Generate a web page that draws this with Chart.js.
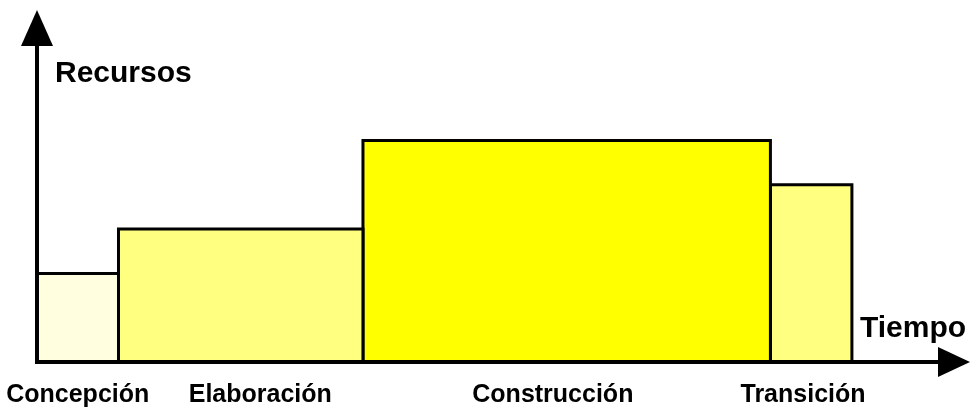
<!DOCTYPE html>
<html>
<head>
<meta charset="utf-8">
<script src="https://cdn.jsdelivr.net/npm/chart.js@4.4.1/dist/chart.umd.min.js"></script>
<style>
  html, body { margin: 0; padding: 0; background: #fff; }
  canvas { display: block; }
</style>
</head>
<body>
<canvas id="chart" width="980" height="408"></canvas>
<script>
// phases of the process: duration (time units) and resources used
const phases = ['Concepción', 'Elaboración', 'Construcción', 'Transición'];
const durations = [1, 3, 5, 1];
const resources = [4, 6, 10, 8];
// where each phase name sits on the time axis
const labelAt = [0.5, 2.74, 6.33, 9.4];
const colors = ['#FFFFE0', '#FFFF80', '#FFFF00', '#FFFF80'];

const xMax = 11.4;
const yMax = 15.8;
const FONT = "'Liberation Sans', Arial, sans-serif";

// build one closed step shape per phase
let start = 0;
const datasets = phases.map((name, i) => {
    const end = start + durations[i];
    const ds = {
        label: name,
        data: [
            {x: start, y: 0},
            {x: start, y: resources[i]},
            {x: end, y: resources[i]},
            {x: end, y: 0}
        ],
        backgroundColor: colors[i],
        borderColor: '#000',
        borderWidth: 3,
        borderJoinStyle: 'miter',
        fill: 'origin',
        pointRadius: 0,
        tension: 0,
        clip: false
    };
    start = end;
    return ds;
});

const axesPlugin = {
    id: 'axes',
    afterDatasetsDraw(chart) {
        const ctx = chart.ctx;
        const x = chart.scales.x, y = chart.scales.y;
        const x0 = x.getPixelForValue(0);
        const y0 = y.getPixelForValue(0);
        const area = chart.chartArea;
        ctx.save();
        ctx.fillStyle = '#000';
        ctx.strokeStyle = '#000';
        ctx.lineWidth = 4;
        // vertical axis + arrow
        ctx.beginPath();
        ctx.moveTo(x0, y0 + 2);
        ctx.lineTo(x0, area.top + 30);
        ctx.stroke();
        ctx.beginPath();
        ctx.moveTo(x0, area.top - 2);
        ctx.lineTo(x0 - 16, area.top + 34);
        ctx.lineTo(x0 + 16, area.top + 34);
        ctx.closePath();
        ctx.fill();
        // horizontal axis + arrow
        ctx.beginPath();
        ctx.moveTo(x0 - 2, y0);
        ctx.lineTo(area.right - 26, y0);
        ctx.stroke();
        ctx.beginPath();
        ctx.moveTo(area.right + 4, y0);
        ctx.lineTo(area.right - 28, y0 - 15);
        ctx.lineTo(area.right - 28, y0 + 15);
        ctx.closePath();
        ctx.fill();

        // axis titles
        ctx.font = 'bold 30px ' + FONT;
        ctx.textBaseline = 'alphabetic';
        ctx.textAlign = 'left';
        ctx.fillText('Recursos', x0 + 18, area.top + 70);
        ctx.fillText('Tiempo', area.right - 106, y0 - 25);

        // phase names under the time axis
        ctx.font = 'bold 25px ' + FONT;
        ctx.textAlign = 'center';
        phases.forEach((name, i) => {
            ctx.fillText(name, x.getPixelForValue(labelAt[i]), y0 + 40);
        });
        ctx.restore();
    }
};

new Chart(document.getElementById('chart'), {
    type: 'line',
    data: { datasets: datasets },
    options: {
        responsive: false,
        animation: false,
        layout: { padding: { left: 37, right: 14, top: 12, bottom: 46 } },
        scales: {
            x: { type: 'linear', min: 0, max: xMax, display: false },
            y: { min: 0, max: yMax, display: false }
        },
        plugins: {
            legend: { display: false },
            tooltip: { enabled: false }
        }
    },
    plugins: [axesPlugin]
});
</script>
</body>
</html>
